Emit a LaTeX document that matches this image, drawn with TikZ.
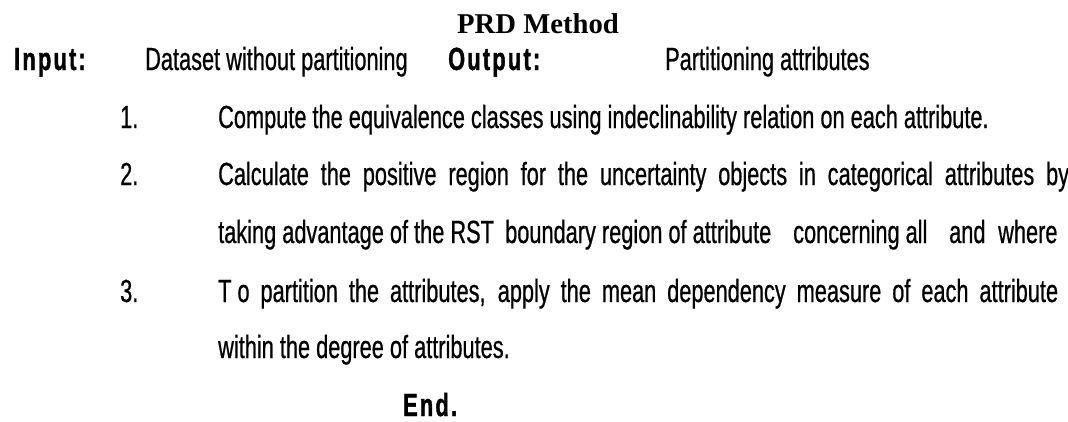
\documentclass[tikz,border=0pt]{standalone}
\usepackage{fontspec}
\setmainfont{Liberation Serif}
\newfontfamily\agency[FakeStretch=0.68,FakeBold=0.6]{Liberation Sans}
\newfontfamily\agencyb[FakeStretch=0.68,LetterSpace=7,FakeBold=1.2]{Liberation Sans}
\tikzset{
  txt/.style={anchor=base west, inner sep=0pt, font=\agency\fontsize{32}{38}\selectfont},
  boldtxt/.style={anchor=base west, inner sep=0pt, font=\agencyb\bfseries\fontsize{32}{38}\selectfont},
  titletxt/.style={anchor=base, inner sep=0pt, font=\bfseries\fontsize{28.7}{34}\selectfont}
}
\begin{document}
\begin{tikzpicture}[x=1pt,y=-1pt]
\useasboundingbox (0,0) rectangle (1068,421);
\clip (0,0) rectangle (1068,421);
\fill[white] (0,0) rectangle (1068,421);
\node[titletxt] (title) at (538,33) {PRD Method};
\node[boldtxt] (in) at (14,70) {Input:};
\node[txt] (ind) at (145,70) {Dataset without partitioning};
\node[boldtxt] (out) at (448,70) {Output:};
\node[txt] (outd) at (665,70) {Partitioning attributes};
\node[txt] (n1) at (120,128) {1.};
\node[txt] (s1) at (218,128) {Compute the equivalence classes using indeclinability relation on each attribute.};
\node[txt] (n2) at (120,185) {2.};
\node[txt] (s2) at (218,185) {\makebox[851pt][s]{Calculate the positive region for the uncertainty objects in categorical attributes by}};
\node[txt] (t1) at (218,243) {taking advantage of the RST};
\node[txt] (t2) at (505,243) {boundary region of attribute};
\node[txt] (t3) at (793,243) {concerning all};
\node[txt] (t4) at (949,243) {and};
\node[txt] (t5) at (998,243) {where};
\node[txt] (n3) at (120,302) {3.};
\node[txt] (s3) at (218,302) {\makebox[840pt][s]{T\hspace{6pt}o partition the attributes, apply the mean dependency measure of each attribute}};
\node[txt] (s3b) at (218,358) {within the degree of attributes.};
\node[boldtxt] (end) at (403,416) {End.};
\end{tikzpicture}
\end{document}
